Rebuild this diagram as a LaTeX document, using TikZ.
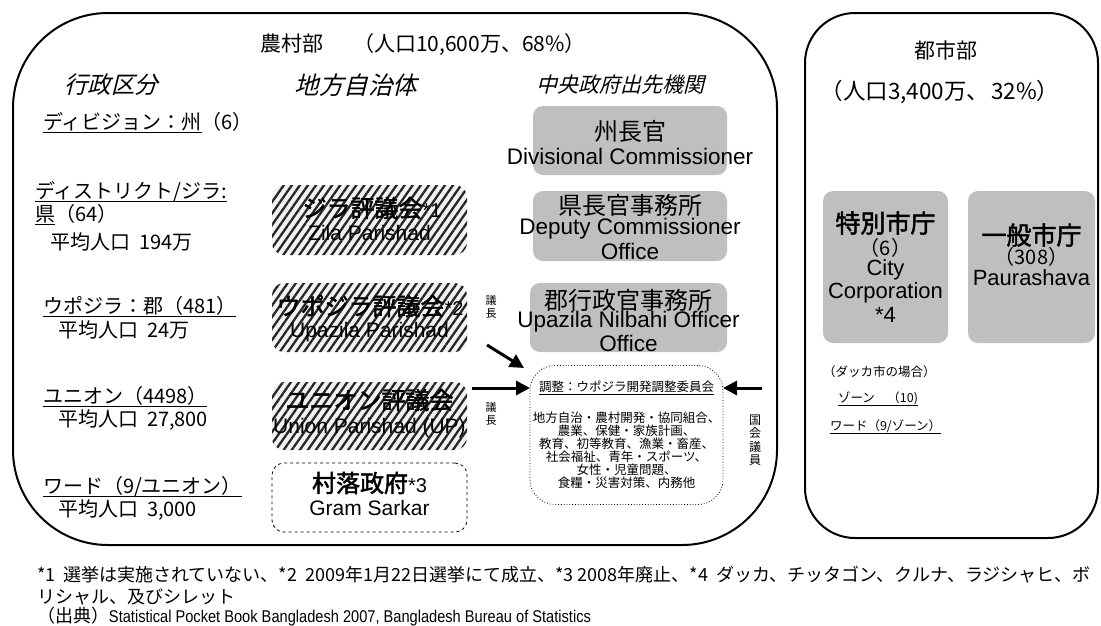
\documentclass[tikz,border=0pt]{standalone}
\usepackage{fontspec}
\usepackage{graphicx}
\usetikzlibrary{arrows.meta,patterns.meta,calc}
\setmainfont{Liberation Sans}
\newfontfamily\jp{Noto Sans CJK JP}
\newfontfamily\jpi[FakeSlant=0.25]{Noto Sans CJK JP}
\newfontfamily\jpb[FakeBold=2]{Noto Sans CJK JP}
\definecolor{boxgray}{HTML}{BFBFBF}
\definecolor{hatchbg}{HTML}{F2F2F2}
\definecolor{hatchfg}{HTML}{262626}
\newsavebox\ulbox
\newcommand\myul[2][1.3pt]{\sbox\ulbox{#2}\rlap{\rule[-3.5pt]{\wd\ulbox}{#1}}\usebox\ulbox}
\newcommand\fs[1]{\fontsize{#1}{#1}\selectfont}
\begin{document}
\begin{tikzpicture}[x=1pt,y=-1pt,
  every node/.style={inner sep=0pt,outer sep=0pt},
  rural/.style={draw,line width=2pt,rounded corners=95pt},
  urban/.style={draw,line width=2pt,rounded corners=50pt},
  gbox/.style={fill=boxgray,rounded corners=10pt},
  hbox/.style={rounded corners=12pt,preaction={fill=hatchbg},
    pattern={Lines[angle=55,distance=6.6pt,line width=2.3pt]},pattern color=hatchfg},
  dbox/.style={draw,dashed,line width=0.8pt,rounded corners=12pt},
  cbox/.style={draw,dotted,line width=0.8pt,rounded corners=25pt},
  arr/.style={line width=3pt,-{Triangle[length=14pt,width=14pt]}},
  ttl/.style={font=\jp\fs{21}},
  hdr/.style={font=\jpi\fs{21}},
  lbl/.style={anchor=west,font=\jp\fs{20}},
  jbig/.style={font=\jp\fs{24}},
  ebig/.style={font=\fs{22.5}},
  hjb/.style={font=\jpb\fs{24}},
  hen/.style={font=\fs{21}},
  small/.style={font=\jp\fs{12.5}},
  note/.style={anchor=west,font=\jp\fs{18}}
]
\useasboundingbox (0,0) rectangle (1101,625);

% regions
\draw[rural] (13,13) rectangle (777,545);
\draw[urban] (805,13) rectangle (1098,538);

% titles
\node[ttl] (rt) at (423,45) {農村部\hspace{30pt}（人口10,600万、68\%）};
\node[hdr,font=\jpi\fs{23.5}] (h1) at (111,85) {行政区分};
\node[hdr,font=\jpi\fs{24.5}] (h2) at (356,85) {地方自治体};
\node[hdr] (h3) at (620,85) {中央政府出先機関};
\node[ttl] (ut) at (946,50) {都市部};
\node[ttl,font=\jp\fs{22.5}] (up) at (940,92) {（人口3,400万、\hspace{2pt}32\%）};

% left column
\node[lbl] (l1) at (43,123) {\myul{ディビジョン：州}（6）};
\node[lbl] (l2a) at (35,192) {\myul{ディストリクト/ジラ:}};
\node[lbl] (l2b) at (35,215) {\myul{県}（64）};
\node[lbl] (l2c) at (50,242) {平均人口\hspace{9pt}194万};
\node[lbl] (l3a) at (43,307) {\myul{ウポジラ：郡（481）}};
\node[lbl] (l3b) at (58,330) {平均人口\hspace{9pt}24万};
\node[lbl] (l4a) at (43,397) {\myul{ユニオン（4498）}};
\node[lbl] (l4b) at (58,420) {平均人口\hspace{9pt}27,800};
\node[lbl] (l5a) at (43,487) {\myul{ワード（9/ユニオン）}};
\node[lbl] (l5b) at (58,510) {平均人口\hspace{9pt}3,000};

% local government (hatched)
\node[hbox,minimum width=195pt,minimum height=70pt] (zp) at (369.5,220) {};
\node[hjb] (zp1) at (372,208) {ジラ評議会{\rmfamily\mdseries\fs{20}*1}};
\node[hen] (zp2) at (369.5,233) {Zila Parishad};
\node[hbox,minimum width=195pt,minimum height=69pt] (upz) at (369.5,317.5) {};
\node[hjb] (upz1) at (370,306) {ウポジラ評議会{\rmfamily\fs{20}*2}};
\node[hen] (upz2) at (369.5,332) {Upazila Parishad};
\node[hbox,minimum width=195pt,minimum height=68pt] (un) at (369.5,416) {};
\node[hjb] (un1) at (369.5,400) {ユニオン評議会};
\node[hen] (un2) at (369.5,428) {Union Parishad (UP)};
\node[dbox,minimum width=195pt,minimum height=69pt] (gs) at (369.5,497.5) {};
\node[hjb] (gs1) at (369.5,483) {村落政府{\rmfamily\fs{20}*3}};
\node[hen] (gs2) at (369.5,508) {Gram Sarkar};

% central government offices
\node[gbox,minimum width=194pt,minimum height=69pt] (dc) at (630,140.5) {};
\node[jbig] (dc1) at (630,131) {州長官};
\node[ebig] (dc2) at (630,156) {Divisional Commissioner};
\node[gbox,minimum width=194pt,minimum height=70pt] (dco) at (630,226) {};
\node[jbig] (dco1) at (630,205) {県長官事務所};
\node[ebig] (dco2) at (630,229) {Deputy Commissioner};
\node[ebig] (dco3) at (630,251) {Office};
\node[gbox,minimum width=197pt,minimum height=69pt] (uno) at (628.5,317.5) {};
\node[jbig] (uno1) at (628.5,300) {郡行政官事務所};
\node[ebig] (uno2) at (628.5,322) {Upazila Nilbahi Officer};
\node[ebig] (uno3) at (628.5,343) {Office};

% coordination committee
\node[cbox,minimum width=193pt,minimum height=139pt] (cc) at (626.5,435) {};
\node[small] (cct) at (626.5,388) {\myul[0.8pt]{調整：ウポジラ開発調整委員会}};
\node[font=\jp\fontsize{12.5}{13}\selectfont,align=center] (ccb) at (626.5,450) {地方自治・農村開発・協同組合、\\農業、保健・家族計画、\\教育、初等教育、漁業・畜産、\\社会福祉、青年・スポーツ、\\女性・児童問題、\\食糧・災害対策、内務他};

% arrows
\coordinate (da) at (487,345);
\coordinate (db) at (524,368);
\draw[arr] (da) -- (db);
\coordinate (ua) at (472,388);
\draw[arr] (ua) -- (ua -| cc.west);
\coordinate (ra) at (762,388);
\draw[arr] (ra) -- (ra -| cc.east);

% vertical labels
\node[font=\jp\fontsize{11}{12.5}\selectfont,align=center] (ch1) at (491,307) {議\\長};
\node[font=\jp\fontsize{11}{12.5}\selectfont,align=center] (ch2) at (491,414) {議\\長};
\node[font=\jp\fontsize{12}{13.5}\selectfont,align=center] (mp) at (755,440) {国\\会\\議\\員};

% urban
\node[gbox,minimum width=125pt,minimum height=152pt] (cco) at (885.5,267) {};
\node[font=\jpb\fs{25}] (cco1) at (885.5,223) {特別市庁};
\node[font=\jp\fs{20}] (cco2) at (885.5,248) {（6）};
\node[font=\fs{22}] (cco3) at (885.5,270) {City};
\node[font=\fs{22}] (cco4) at (885.5,293) {Corporation};
\node[font=\fs{22}] (cco5) at (885.5,315) {*4};
\node[gbox,minimum width=127pt,minimum height=152pt] (pau) at (1031.5,267) {};
\node[font=\jpb\fs{25}] (pau1) at (1031.5,235) {一般市庁};
\node[font=\jp\fs{20}] (pau2) at (1031.5,257) {（308）};
\node[font=\fs{22}] (pau3) at (1031.5,278) {Paurashava};
\node[small,anchor=west] (dk) at (823,372) {（ダッカ市の場合）};
\node[small,anchor=west] (zn) at (838,399) {\myul[0.8pt]{ゾーン　（10)}};
\node[small,anchor=west] (wd) at (830,427) {\myul[0.8pt]{ワード（9/ゾーン）}};

% footnotes
\node[note] (n1) at (37,575) {*1\ \ 選挙は実施されていない、*2\ \ 2009年1月22日選挙にて成立、*3 2008年廃止、*4\ \ ダッカ、チッタゴン、クルナ、ラジシャヒ、ボ};
\node[note] (n2) at (37,597) {リシャル、及びシレット};
\node[note] (n3) at (37,617) {（出典）{\rmfamily\fs{17}\scalebox{0.86}[1]{Statistical Pocket Book Bangladesh 2007, Bangladesh Bureau of Statistics}}};
\end{tikzpicture}
\end{document}
